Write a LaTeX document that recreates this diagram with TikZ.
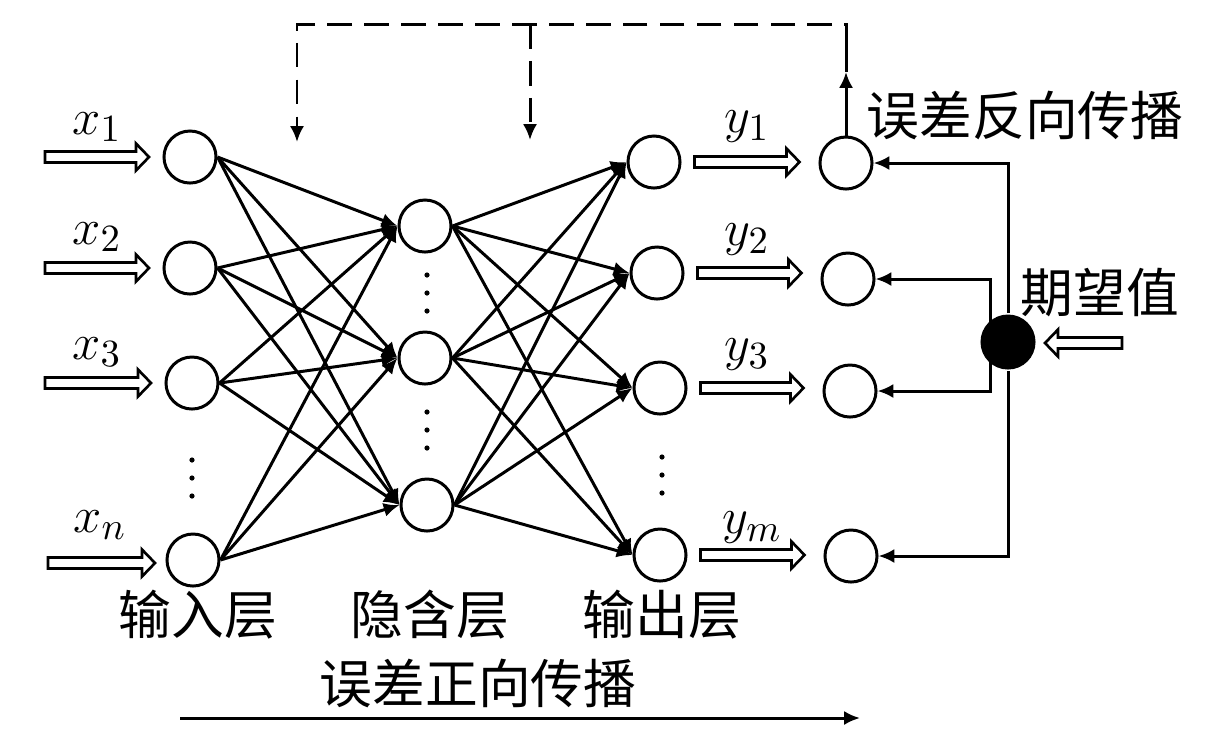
\documentclass[tikz,border=0pt]{standalone}
\usepackage{fontspec}
\newfontfamily\cjk{Noto Sans CJK SC}
\usetikzlibrary{arrows.meta,calc}

\newcommand\blockarrow[2]{%
  \coordinate (ba) at ($(#2)!0.13cm!(#1)$);
  \draw[line width=0.75pt, line join=miter]
    ($(#1)!0.055cm!90:(#2)$) -- ($(ba)!0.055cm!90:(#2)$) -- ($(ba)!0.135cm!90:(#2)$) -- (#2)
    -- ($(ba)!0.135cm!-90:(#2)$) -- ($(ba)!0.055cm!-90:(#2)$) -- ($(#1)!0.055cm!-90:(#2)$) -- cycle;}

\begin{document}
\begin{tikzpicture}[x=0.01cm, y=-0.01cm, line width=0.85pt,
  neuron/.style={circle, draw, minimum size=0.52cm, inner sep=0pt},
  edge/.style={-{Latex[length=4.5pt,width=4pt]}},
  lab/.style={font=\fontsize{15}{18}\selectfont},
  cjklab/.style={font=\fontsize{15}{18}\selectfont\cjk},
  back/.style={dash pattern=on 7pt off 3.5pt}]
\useasboundingbox (0,0) rectangle (1212,744);

% layers
\node[neuron] (in1) at (190,157) {};
\node[neuron] (in2) at (190,268) {};
\node[neuron] (in3) at (192,383) {};
\node[neuron] (inn) at (193,560) {};
\node[neuron] (hd1) at (425,226) {};
\node[neuron] (hd2) at (425,358) {};
\node[neuron] (hd3) at (427,505) {};
\node[neuron] (out1) at (654,162) {};
\node[neuron] (out2) at (657,273) {};
\node[neuron] (out3) at (660,388) {};
\node[neuron] (outm) at (660,555) {};
\node[neuron] (tg1) at (846,163) {};
\node[neuron] (tg2) at (848,279) {};
\node[neuron] (tg3) at (850,391) {};
\node[neuron] (tgm) at (851,556) {};
\node[circle, fill=black, minimum size=0.55cm, inner sep=0pt] (ev) at (1008,342) {};

\foreach \y in {-18,0,18} {
  \fill (192,478+\y) circle (2.6);
  \fill (427,293+\y) circle (2.6);
  \fill (427,430+\y) circle (2.6);
  \fill (662,475+\y) circle (2.6);
}

\foreach \a in {in1,in2,in3,inn}
  \foreach \b in {hd1,hd2,hd3}
    \draw[edge] (\a.east) -- (\b.west);
\foreach \a in {hd1,hd2,hd3}
  \foreach \b in {out1,out2,out3,outm}
    \draw[edge] (\a.east) -- (\b.west);

% inputs and outputs
\coordinate (s1) at (45,157);
\coordinate (s2) at (45,268);
\coordinate (s3) at (45,383);
\coordinate (sn) at (48,563);
\coordinate (in1-tip) at (149,157);
\coordinate (in2-tip) at (149,268);
\coordinate (in3-tip) at (151,383);
\coordinate (inn-tip) at (155,563);
\foreach \n in {s1/in1,s2/in2,s3/in3,sn/inn}
  \foreach \s/\t in \n {\blockarrow{\s}{\t-tip}}
\foreach \o/\t in {out1/tg1,out2/tg2,out3/tg3,outm/tgm} {
  \coordinate (\o-s) at ([xshift=0.13cm]\o.east);
  \coordinate (\t-e) at ($(\t.west |- \o-s)+(-19,0)$);
  \blockarrow{\o-s}{\t-e}
}

\node[lab] (lx1) at (97,127) {$x_1$};
\node[lab] (lx2) at (97,237) {$x_2$};
\node[lab] (lx3) at (97,352) {$x_3$};
\node[lab] (lxn) at (100,525) {$x_n$};
\node[lab] (ly1) at (747,127) {$y_1$};
\node[lab] (ly2) at (747,240) {$y_2$};
\node[lab] (ly3) at (747,355) {$y_3$};
\node[lab] (lym) at (752,528) {$y_m$};

% expected value
\coordinate (ej) at (990,342);
\coordinate (es) at (1122,343);
\coordinate (ev-tip) at (1045,343);
\draw[edge] (ev) |- (tg1);
\draw[edge] (ev) |- (tgm);
\draw[edge] (ej) |- (tg2);
\draw[edge] (ej) |- (tg3);
\blockarrow{es}{ev-tip}
\node[cjklab] (lev) at (1100,293) {期望值};

% error feedback
\coordinate (fb1) at (846,72);
\coordinate (fb0) at (846,47);
\coordinate (fbl) at (297,142);
\coordinate (fbm) at (530,140);
\draw[edge] (tg1) -- (fb1);
\draw (fb1) -- (fb0);
\draw[back, -{Latex[length=4.5pt,width=4pt]}] (fb0) -- (846,24) -| (fbl);
\draw[back, -{Latex[length=4.5pt,width=4pt]}] (530,24) -- (fbm);
\node[cjklab] (lbp) at (1025,115) {误差反向传播};

\node[cjklab] (lin) at (198,615) {输入层};
\node[cjklab] (lhd) at (430,615) {隐含层};
\node[cjklab] (lout) at (662,615) {输出层};
\node[cjklab] (lfp) at (478,683) {误差正向传播};
\coordinate (fp0) at (180,718);
\coordinate (fp1) at (860,718);
\draw[edge] (fp0) -- (fp1);
\end{tikzpicture}
\end{document}
